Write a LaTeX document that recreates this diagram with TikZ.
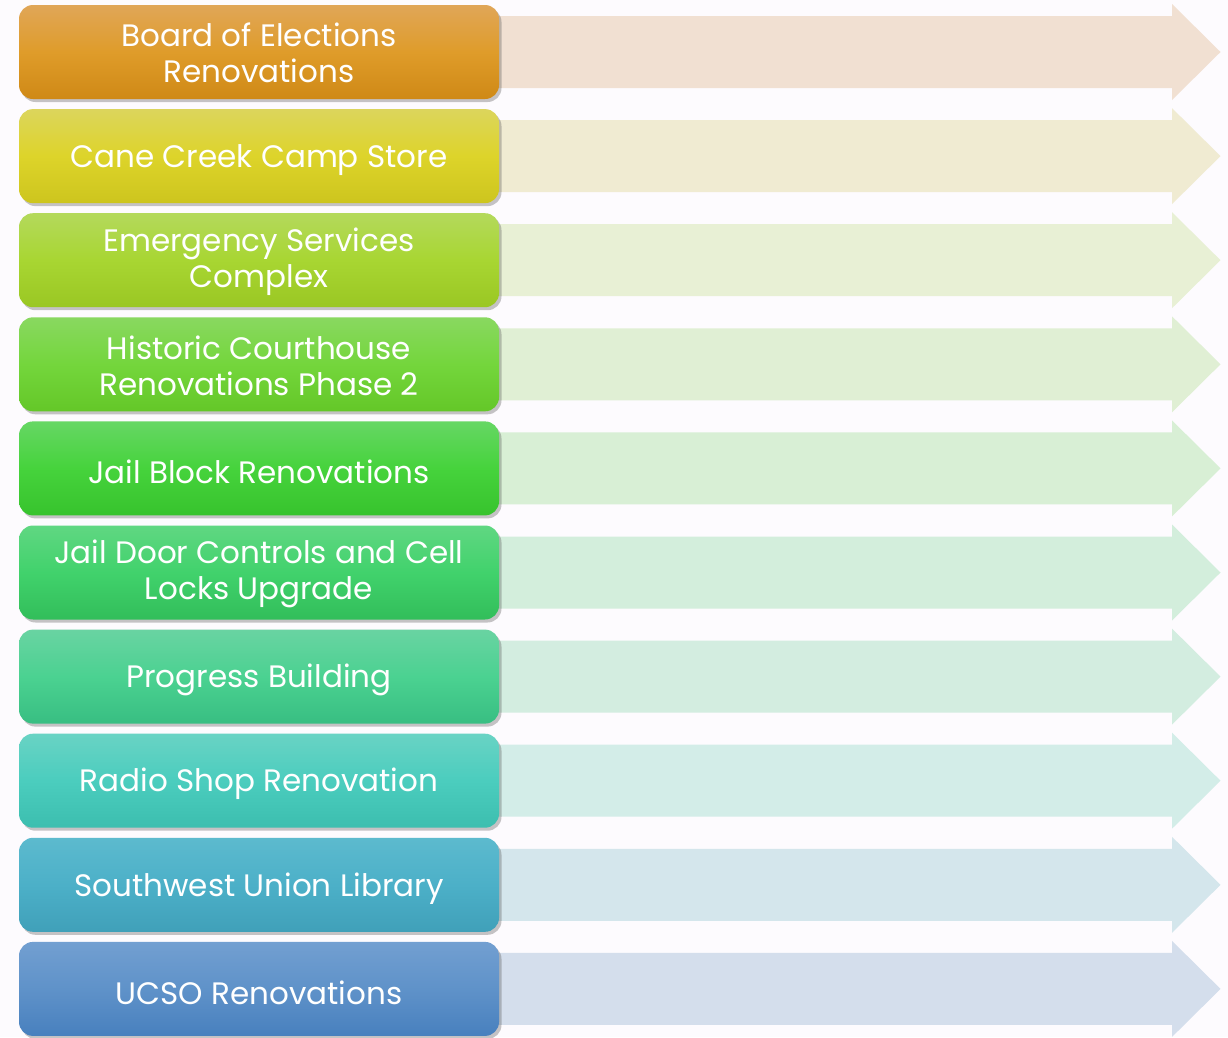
\documentclass[tikz,border=0pt]{standalone}
\usepackage{fontspec}
\setmainfont{Poppins}
\usetikzlibrary{shadows}
\definecolor{bg}{RGB}{253,251,254}
\definecolor{t1}{RGB}{224,166,88}\definecolor{m1}{RGB}{223,156,42}\definecolor{b1}{RGB}{207,137,22}\definecolor{a1}{RGB}{241,224,210}
\definecolor{t2}{RGB}{220,213,92}\definecolor{m2}{RGB}{221,212,42}\definecolor{b2}{RGB}{205,197,30}\definecolor{a2}{RGB}{240,235,210}
\definecolor{t3}{RGB}{180,217,92}\definecolor{m3}{RGB}{168,214,50}\definecolor{b3}{RGB}{154,199,35}\definecolor{a3}{RGB}{232,240,213}
\definecolor{t4}{RGB}{137,216,96}\definecolor{m4}{RGB}{116,214,60}\definecolor{b4}{RGB}{100,199,40}\definecolor{a4}{RGB}{224,239,212}
\definecolor{t5}{RGB}{102,215,100}\definecolor{m5}{RGB}{70,211,60}\definecolor{b5}{RGB}{55,195,45}\definecolor{a5}{RGB}{216,239,213}
\definecolor{t6}{RGB}{96,215,130}\definecolor{m6}{RGB}{65,210,108}\definecolor{b6}{RGB}{50,190,90}\definecolor{a6}{RGB}{211,238,220}
\definecolor{t7}{RGB}{105,211,162}\definecolor{m7}{RGB}{75,210,145}\definecolor{b7}{RGB}{56,190,130}\definecolor{a7}{RGB}{211,237,224}
\definecolor{t8}{RGB}{105,211,196}\definecolor{m8}{RGB}{75,205,190}\definecolor{b8}{RGB}{60,190,175}\definecolor{a8}{RGB}{211,237,232}
\definecolor{t9}{RGB}{92,186,206}\definecolor{m9}{RGB}{76,176,200}\definecolor{b9}{RGB}{64,160,185}\definecolor{a9}{RGB}{212,230,236}
\definecolor{t10}{RGB}{114,159,209}\definecolor{m10}{RGB}{95,146,201}\definecolor{b10}{RGB}{72,128,190}\definecolor{a10}{RGB}{212,222,236}
\tikzset{
  itembox/.style={rounded corners=14pt, minimum width=480pt, minimum height=94pt,
    inner sep=0pt,
    drop shadow={shadow xshift=2.5pt, shadow yshift=-3pt, opacity=0.32, fill=black!70}},
  itemlabel/.style={inner sep=0pt, text=white, align=center, font=\fontsize{31}{36}\selectfont},
  itemarrow/.style={draw=none}
}
\begin{document}
\begin{tikzpicture}[x=1pt,y=-1pt]
\fill[bg] (0,0) rectangle (1228,1037);
\useasboundingbox (0,0) rectangle (1228,1037);
\foreach \i/\sh/\txt in {1/1/{Board of Elections\\Renovations},
                     2/3.5/{Cane Creek Camp Store},
                     3/1.5/{Emergency Services\\Complex},
                     4/1.5/{Historic Courthouse\\Renovations Phase 2},
                     5/3.5/{Jail Block Renovations},
                     6/1.5/{Jail Door Controls and Cell\\Locks Upgrade},
                     7/3.5/{Progress Building},
                     8/3.5/{Radio Shop Renovation},
                     9/3.5/{Southwest Union Library},
                     10/3.5/{UCSO Renovations}}{
  \pgfmathsetmacro{\cy}{52+104.1*(\i-1)}
  \fill[a\i, itemarrow] (490,\cy-36) -- (1172,\cy-36) -- (1172,\cy-48) -- (1220.5,\cy)
     -- (1172,\cy+48) -- (1172,\cy+36) -- (490,\cy+36) -- cycle;
  \node[itembox, top color=t\i, bottom color=b\i, middle color=m\i] (box\i) at (259,\cy) {};
  \node[itemlabel, yshift=-\sh pt] (lbl\i) at (box\i.center) {\txt};
}
\end{tikzpicture}
\end{document}
